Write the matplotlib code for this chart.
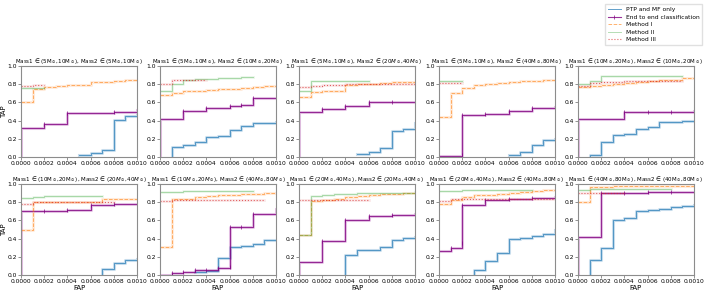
import numpy as np
import matplotlib
matplotlib.use("Agg")
import matplotlib.pyplot as plt

# panel titles (Mass1 range, Mass2 range)
titles = [
    r"Mass1 ∈ (5M$_\odot$,10M$_\odot$), Mass2 ∈ (5M$_\odot$,10M$_\odot$)",
    r"Mass1 ∈ (5M$_\odot$,10M$_\odot$), Mass2 ∈ (10M$_\odot$,20M$_\odot$)",
    r"Mass1 ∈ (5M$_\odot$,10M$_\odot$), Mass2 ∈ (20$M_\odot$,40$M_\odot$)",
    r"Mass1 ∈ (5M$_\odot$,10M$_\odot$), Mass2 ∈ (40M$_\odot$,80M$_\odot$)",
    r"Mass1 ∈ (10M$_\odot$,20M$_\odot$), Mass2 ∈ (10M$_\odot$,20M$_\odot$)",
    r"Mass1 ∈ (10M$_\odot$,20M$_\odot$), Mass2 ∈ (20$M_\odot$,40$M_\odot$)",
    r"Mass1 ∈ (10$M_\odot$,20$M_\odot$), Mass2 ∈ (40$M_\odot$,80$M_\odot$)",
    r"Mass1 ∈ (20M$_\odot$,40M$_\odot$), Mass2 ∈ (20M$_\odot$,40M$_\odot$)",
    r"Mass1 ∈ (20M$_\odot$,40M$_\odot$), Mass2 ∈ (40M$_\odot$,80M$_\odot$)",
    r"Mass1 ∈ (40M$_\odot$,80M$_\odot$), Mass2 ∈ (40M$_\odot$,80M$_\odot$)",
]

# FAP in units of 1e-4, TAP values (step curves)
ptp_x = [[5, 6, 7, 8, 9, 10],
         [1, 1, 2, 3, 4, 5, 6, 7, 8, 9, 10],
         [5, 6, 7, 8, 9, 10, 10],
         [6, 7, 8, 9, 10],
         [1, 1, 2, 3, 4, 5, 6, 7, 8, 9, 10],
         [7, 7, 8, 9, 10],
         [3, 4, 5, 6, 7, 8, 9, 10],
         [4, 4, 5, 6, 7, 8, 9, 10],
         [3, 3, 4, 5, 6, 7, 8, 9, 10, 10],
         [1, 1, 2, 3, 4, 5, 6, 7, 8, 9, 10]]
ptp_y = [[0.02, 0.04, 0.08, 0.41, 0.45, 0.46],
         [0.01, 0.11, 0.13, 0.17, 0.22, 0.23, 0.30, 0.34, 0.37, 0.37, 0.38],
         [0.03, 0.06, 0.10, 0.29, 0.31, 0.31, 0.37],
         [0.02, 0.05, 0.13, 0.19, 0.20],
         [0.0, 0.02, 0.16, 0.24, 0.25, 0.31, 0.33, 0.38, 0.39, 0.40, 0.40],
         [0.01, 0.07, 0.13, 0.17, 0.18],
         [0.03, 0.04, 0.19, 0.31, 0.32, 0.34, 0.38, 0.39],
         [0.0, 0.22, 0.27, 0.28, 0.31, 0.38, 0.41, 0.42],
         [0.0, 0.06, 0.15, 0.24, 0.40, 0.41, 0.43, 0.45, 0.46, 0.50],
         [0.0, 0.17, 0.30, 0.60, 0.63, 0.70, 0.71, 0.73, 0.75, 0.76, 0.77]]

e2e_x = [[0, 0, 2, 4, 8, 10],
         [0, 0, 2, 4, 6, 7, 8, 10],
         [0, 0, 2, 4, 6, 8, 10],
         [0, 2, 2, 4, 6, 8, 10],
         [0, 0, 4, 6, 8, 10],
         [0, 0, 2, 4, 6, 8, 10],
         [0, 1, 2, 3, 4, 5, 6, 6, 7, 8, 10, 10],
         [0, 0, 2, 4, 6, 8, 10],
         [0, 1, 2, 2, 4, 6, 8, 10],
         [0, 0, 2, 4, 6, 8, 10]]
e2e_y = [[0.0, 0.32, 0.36, 0.48, 0.50, 0.52],
         [0.0, 0.42, 0.51, 0.54, 0.56, 0.57, 0.65, 0.65],
         [0.0, 0.50, 0.53, 0.56, 0.60, 0.60, 0.60],
         [0.01, 0.02, 0.46, 0.47, 0.51, 0.54, 0.55],
         [0.0, 0.42, 0.49, 0.50, 0.50, 0.51],
         [0.0, 0.70, 0.70, 0.71, 0.77, 0.78, 0.78],
         [0.0, 0.02, 0.03, 0.05, 0.06, 0.08, 0.09, 0.53, 0.53, 0.67, 0.67, 0.72],
         [0.0, 0.14, 0.37, 0.60, 0.65, 0.66, 0.67],
         [0.26, 0.30, 0.35, 0.77, 0.82, 0.84, 0.85, 0.86],
         [0.0, 0.42, 0.90, 0.90, 0.91, 0.91, 0.91]]

m1_x = [[0, 1, 2, 3, 4, 6, 8, 9, 10],
        list(range(11)),
        [0, 1, 2, 4, 5, 7, 8, 10],
        list(range(11)),
        list(range(11)),
        [0, 1, 2, 7, 8, 10],
        list(range(11)),
        list(range(11)),
        list(range(11)),
        [0, 1, 3, 8, 10]]
m1_y = [[0.60, 0.75, 0.77, 0.78, 0.79, 0.82, 0.84, 0.85, 0.85],
        [0.68, 0.70, 0.72, 0.73, 0.74, 0.75, 0.75, 0.76, 0.77, 0.78, 0.78],
        [0.66, 0.71, 0.72, 0.79, 0.80, 0.81, 0.82, 0.82],
        [0.44, 0.70, 0.76, 0.79, 0.80, 0.81, 0.82, 0.83, 0.84, 0.85, 0.85],
        [0.77, 0.78, 0.79, 0.80, 0.81, 0.82, 0.84, 0.85, 0.85, 0.87, 0.87],
        [0.50, 0.80, 0.80, 0.83, 0.84, 0.84],
        [0.31, 0.83, 0.84, 0.86, 0.87, 0.88, 0.88, 0.89, 0.89, 0.90, 0.90],
        [0.44, 0.81, 0.82, 0.84, 0.86, 0.87, 0.88, 0.89, 0.89, 0.90, 0.90],
        [0.78, 0.82, 0.86, 0.88, 0.88, 0.89, 0.90, 0.91, 0.92, 0.93, 0.93],
        [0.80, 0.97, 0.98, 0.98, 0.98]]

m2_x = [[0, 2], [0, 1, 2, 3, 4, 5, 6, 7, 8], [0, 1, 6], [0, 2], [0, 1, 2, 9],
        [0, 1, 2, 7], [0, 2, 8], [0, 1, 2, 3, 4, 5, 10], [0, 2, 4, 8], [0, 1, 4, 8]]
m2_y = [[0.76, 0.76], [0.72, 0.80, 0.85, 0.86, 0.86, 0.87, 0.87, 0.88, 0.88],
        [0.72, 0.83, 0.83], [0.84, 0.84], [0.80, 0.84, 0.89, 0.89],
        [0.85, 0.86, 0.87, 0.87], [0.91, 0.92, 0.92],
        [0.44, 0.87, 0.88, 0.89, 0.89, 0.90, 0.91], [0.92, 0.93, 0.93, 0.93],
        [0.93, 0.94, 0.95, 0.95]]

m3_x = [[0, 1, 2], [0, 1, 4], [0, 1, 2, 4, 10], [0, 2], [0, 1, 2, 4, 9],
        [0, 1, 8], [0, 1, 9], [0, 6], [0, 1, 2, 10], [0, 4]]
m3_y = [[0.78, 0.79, 0.79], [0.80, 0.85, 0.85], [0.77, 0.78, 0.79, 0.80, 0.80],
        [0.81, 0.81], [0.78, 0.81, 0.82, 0.83, 0.83], [0.78, 0.80, 0.80],
        [0.81, 0.82, 0.82], [0.82, 0.82], [0.81, 0.83, 0.84, 0.84], [0.90, 0.90]]

plt.rcParams['font.size'] = 5
fig = plt.figure(figsize=(7.06, 2.93), dpi=100)

lefts = [21, 160, 299, 439, 578]
bottoms = [157, 275]
W, H = 116, 91

for i in range(10):
    r, c = divmod(i, 5)
    ax = fig.add_axes([lefts[c] / 706, 1 - bottoms[r] / 293, W / 706, H / 293])

    s = 1e-4
    x = np.array(ptp_x[i]) * s
    ax.step(x, ptp_y[i], where='post', color='#1f77b4', lw=2.2, alpha=0.25)
    l1, = ax.step(x, ptp_y[i], where='post', color='#1f77b4', lw=0.7, alpha=0.7,
                  label='PTP and MF only')

    x = np.array(e2e_x[i]) * s
    ax.step(x, e2e_y[i], where='post', color='#a020a0', lw=2.2, alpha=0.25)
    l2, = ax.step(x, e2e_y[i], where='post', color='#800080', lw=0.8, alpha=0.8,
                  marker='|', markersize=2.5, markeredgewidth=0.6,
                  label='End to end classification')

    x = np.array(m1_x[i]) * s
    ax.step(x, m1_y[i], where='post', color='#ff7f0e', lw=2.2, alpha=0.15)
    l3, = ax.step(x, m1_y[i], where='post', color='#ff7f0e', lw=0.7, alpha=0.6,
                  ls='--', label='Method I')

    x = np.array(m2_x[i]) * s
    ax.step(x, m2_y[i], where='post', color='#2ca02c', lw=2.0, alpha=0.1)
    l4, = ax.step(x, m2_y[i], where='post', color='#2ca02c', lw=0.7, alpha=0.35,
                  label='Method II')

    x = np.array(m3_x[i]) * s
    ax.step(x, m3_y[i], where='post', color='#d62728', lw=2.0, alpha=0.1)
    l5, = ax.step(x, m3_y[i], where='post', color='#d62728', lw=0.8, alpha=0.7,
                  ls=':', label='Method III')

    ax.set_xlim(0, 0.001)
    ax.set_ylim(0, 1)
    xt = np.arange(0, 0.00101, 0.0002)
    ax.set_xticks(xt)
    ax.set_xticklabels(['%.4f' % v for v in xt])
    yt = np.arange(0, 1.01, 0.2)
    ax.set_yticks(yt)
    ax.set_yticklabels(['%.1f' % v for v in yt])
    ax.tick_params(labelsize=4.3, length=2, width=0.5, pad=1, color='0.4')
    for sp in ax.spines.values():
        sp.set_color('0.55')
        sp.set_linewidth(0.8)
    ax.set_title(titles[i], fontsize=4.0, pad=1.5)
    if c == 0:
        ax.set_ylabel('TAP', fontsize=5, labelpad=0.5)
    if r == 1:
        ax.set_xlabel('FAP', fontsize=5, labelpad=0.5)

fig.legend(handles=[l1, l2, l3, l4, l5], loc='upper right', bbox_to_anchor=(0.999, 0.997),
           fontsize=4.3, frameon=True, framealpha=0.8, edgecolor='0.85', fancybox=False,
           handlelength=2.2, borderpad=0.5, labelspacing=0.4)

fig.savefig('out.png', dpi=100)
